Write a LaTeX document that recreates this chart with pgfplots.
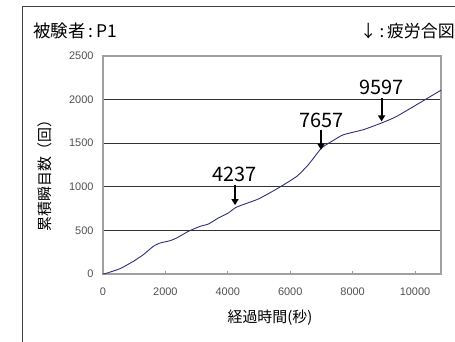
\documentclass[border=0pt]{standalone}
\usepackage{pgfplots}
\pgfplotsset{compat=1.18}
\usepackage{fontspec}
\setmainfont{Noto Sans CJK JP}
\newfontfamily\numfont{Liberation Sans}
\usetikzlibrary{arrows.meta}

\definecolor{curve}{HTML}{2F2F78}
\definecolor{frame}{HTML}{A0A0A0}
\definecolor{ticktext}{HTML}{505050}

% cumulative blink count over elapsed time
\pgfplotstableread{
t     n
0     0
60    3
545   61
971   145
1291  221
1612  317
1827  355
2147  382
2361  413
2735  489
3109  546
3376  573
3696  642
4017  700
4285  768
4978  860
5619  986
6208  1119
6581  1253
7006  1445
7382  1532
7703  1597
8343  1655
8929  1732
9410  1807
10321 1999
10833 2108
}\blinks

\begin{document}
\begin{tikzpicture}
\useasboundingbox (-103bp,-68bp) rectangle (352bp,274bp);
% outer chart frame
\draw[line width=0.8bp, black!75] (-81bp,-90bp) -- (-81bp,268bp) -- (400bp,268bp);
\begin{axis}[
  at={(0,0)}, anchor=origin,
  scale only axis,
  width=338bp, height=218bp,
  xmin=0, xmax=10833, ymin=0, ymax=2500,
  axis line style={frame, line width=1.5bp},
  xtick={0,2000,...,10000},
  ytick={0,500,...,2500},
  ymajorgrids,
  grid style={black!80, line width=0.7bp},
  major tick length=3bp,
  xtick align=inside,
  x tick style={frame, line width=1bp},
  y tick style={draw=none},
  xtick pos=bottom, ytick pos=left,
  scaled x ticks=false, scaled y ticks=false,
  /pgf/number format/assume math mode=true,
  /pgf/number format/1000 sep={},
  tick label style={font=\numfont\fontsize{11}{12}\selectfont, text=ticktext},
  xticklabel style={yshift=-10bp},
  yticklabel style={xshift=-6bp},
  clip=false,
]
\addplot[curve, line width=0.9bp, smooth, tension=0.3] table[x=t, y=n] {\blinks};

% fatigue signals
\draw[-{Triangle[width=7bp,length=6bp]}, line width=2bp]
  (axis cs:4231,1024) -- (axis cs:4231,790);
\node[font=\fontsize{20}{20}\selectfont] at (axis cs:4210,1138) {4237};
\draw[-{Triangle[width=7bp,length=6bp]}, line width=2bp]
  (axis cs:6987,1654) -- (axis cs:6987,1425);
\node[font=\fontsize{20}{20}\selectfont] at (axis cs:7006,1760) {7657};
\draw[-{Triangle[width=7bp,length=6bp]}, line width=2bp]
  (axis cs:8929,2018) -- (axis cs:8929,1750);
\node[font=\fontsize{20}{20}\selectfont] at (axis cs:8929,2140) {9597};
\end{axis}

\node[anchor=base west, inner sep=0pt, font=\fontsize{17.5}{18}\selectfont] at (-70bp,236bp) {被験者\,:\,P1};
\node[anchor=base east, inner sep=0pt, font=\fontsize{17}{18}\selectfont] at (352bp,236bp) {↓\,:\,疲労合図};
\node[font=\fontsize{15}{16}\selectfont] at (167bp,-44bp) {経過時間(秒)};
\node[rotate=90, font=\fontsize{15}{16}\selectfont] at (-58bp,102bp) {累積瞬目数（回）};
\end{tikzpicture}
\end{document}
